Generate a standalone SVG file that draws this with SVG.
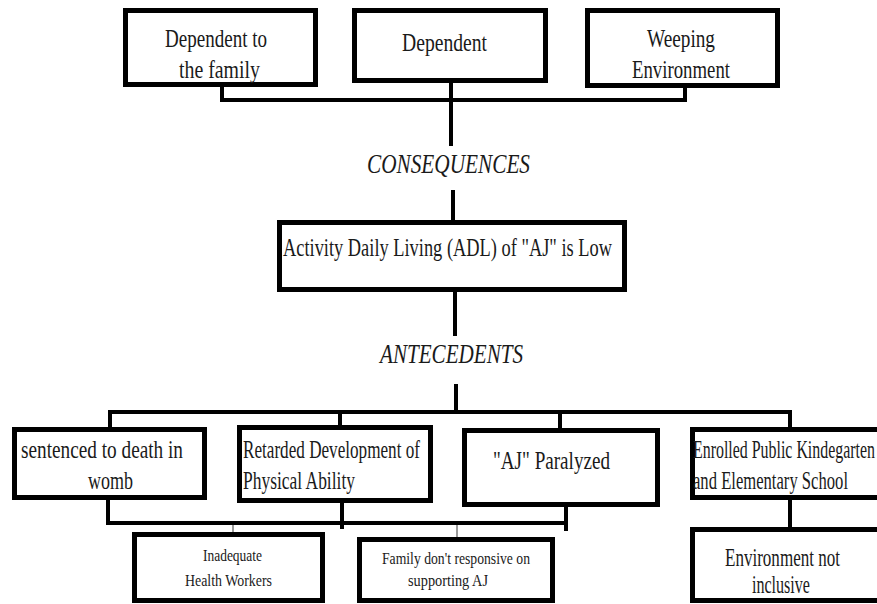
<svg xmlns="http://www.w3.org/2000/svg" width="877" height="604" viewBox="0 0 877 604">
  <style>
    .box { fill: #ffffff; stroke: #000000; stroke-width: 5; }
    .wire { stroke: #000000; stroke-width: 4; fill: none; stroke-linecap: square; }
    .faint { stroke: #9a9a9a; stroke-width: 2; fill: none; }
    text { font-family: "Liberation Serif", "Times New Roman", serif; fill: #1a1a1a; }
    .lbl { font-size: 25px; }
    .sm { font-size: 17px; }
    .head { font-size: 27px; font-style: italic; }
  </style>
  <rect width="877" height="604" fill="#ffffff"/>

  <!-- connectors -->
  <g id="connectors">
    <!-- consequences bracket -->
    <polyline class="wire" points="222,87 222,100 685,100 685,88"/>
    <line class="wire" x1="451" y1="83" x2="451" y2="144"/>
    <line class="wire" x1="453" y1="192" x2="453" y2="221"/>
    <!-- antecedents trunk -->
    <line class="wire" x1="455" y1="292" x2="455" y2="334"/>
    <line class="wire" x1="456" y1="386" x2="456" y2="412"/>
    <line class="wire" x1="110" y1="412" x2="790" y2="412"/>
    <line class="wire" x1="110" y1="412" x2="110" y2="427"/>
    <line class="wire" x1="340" y1="412" x2="340" y2="425"/>
    <line class="wire" x1="560" y1="412" x2="560" y2="428"/>
    <line class="wire" x1="790" y1="412" x2="790" y2="427"/>
    <!-- lower bracket -->
    <polyline class="wire" points="108,500 108,523 566,523"/>
    <line class="wire" x1="342" y1="503" x2="342" y2="527"/>
    <line class="wire" x1="566" y1="507" x2="566" y2="529"/>
    <line class="faint" x1="233" y1="525" x2="233" y2="532"/>
    <line class="faint" x1="457" y1="525" x2="457" y2="537"/>
    <line class="wire" x1="790" y1="500" x2="790" y2="527"/>
  </g>

  <!-- consequences -->
  <g id="dependent-family">
    <rect class="box" x="125.5" y="10.5" width="190" height="74"/>
    <text class="lbl" x="165" y="47" textLength="102" lengthAdjust="spacingAndGlyphs">Dependent to</text>
    <text class="lbl" x="179" y="78" textLength="81" lengthAdjust="spacingAndGlyphs">the family</text>
  </g>
  <g id="dependent">
    <rect class="box" x="354.5" y="10.5" width="191" height="70"/>
    <text class="lbl" x="402" y="51" textLength="85" lengthAdjust="spacingAndGlyphs">Dependent</text>
  </g>
  <g id="weeping-environment">
    <rect class="box" x="587.5" y="10.5" width="190" height="75"/>
    <text class="lbl" x="647" y="47" textLength="68" lengthAdjust="spacingAndGlyphs">Weeping</text>
    <text class="lbl" x="632" y="78" textLength="98" lengthAdjust="spacingAndGlyphs">Environment</text>
  </g>

  <g id="consequences-label">
    <text class="head" x="367" y="173" textLength="163" lengthAdjust="spacingAndGlyphs">CONSEQUENCES</text>
  </g>

  <g id="adl">
    <rect class="box" x="279.5" y="222.5" width="345" height="67"/>
    <text class="lbl" x="283" y="256" textLength="329" lengthAdjust="spacingAndGlyphs">Activity Daily Living (ADL) of "AJ" is Low</text>
  </g>

  <g id="antecedents-label">
    <text class="head" x="380" y="363" textLength="143" lengthAdjust="spacingAndGlyphs">ANTECEDENTS</text>
  </g>

  <!-- antecedents -->
  <g id="sentenced">
    <rect class="box" x="14.5" y="429.5" width="190" height="68"/>
    <text class="lbl" x="21" y="458" textLength="162" lengthAdjust="spacingAndGlyphs">sentenced to death in</text>
    <text class="lbl" x="88" y="489" textLength="45" lengthAdjust="spacingAndGlyphs">womb</text>
  </g>
  <g id="retarded">
    <rect class="box" x="239.5" y="427.5" width="191" height="73"/>
    <text class="lbl" x="243" y="458" textLength="177" lengthAdjust="spacingAndGlyphs">Retarded Development of</text>
    <text class="lbl" x="243" y="489" textLength="112" lengthAdjust="spacingAndGlyphs">Physical Ability</text>
  </g>
  <g id="paralyzed">
    <rect class="box" x="464.5" y="430.5" width="193" height="74"/>
    <text class="lbl" x="493" y="469" textLength="117" lengthAdjust="spacingAndGlyphs">"AJ" Paralyzed</text>
  </g>
  <g id="enrolled">
    <rect class="box" x="692.5" y="429.5" width="200" height="68"/>
    <text class="lbl" x="693" y="458" textLength="182" lengthAdjust="spacingAndGlyphs">Enrolled Public Kindegarten</text>
    <text class="lbl" x="693" y="489" textLength="155" lengthAdjust="spacingAndGlyphs">and Elementary School</text>
  </g>

  <g id="health-workers">
    <rect class="box" x="134.5" y="534.5" width="188" height="66"/>
    <text class="sm" x="203" y="561" textLength="59" lengthAdjust="spacingAndGlyphs">Inadequate</text>
    <text class="sm" x="185" y="586" textLength="87" lengthAdjust="spacingAndGlyphs">Health Workers</text>
  </g>
  <g id="family-support">
    <rect class="box" x="359.5" y="539.5" width="193" height="61"/>
    <text class="sm" x="382" y="564" textLength="148" lengthAdjust="spacingAndGlyphs">Family don't responsive on</text>
    <text class="sm" x="408" y="586" textLength="80" lengthAdjust="spacingAndGlyphs">supporting AJ</text>
  </g>
  <g id="environment">
    <rect class="box" x="692.5" y="529.5" width="200" height="71"/>
    <text class="lbl" x="725" y="566" textLength="115" lengthAdjust="spacingAndGlyphs">Environment not</text>
    <text class="lbl" x="752" y="593" textLength="58" lengthAdjust="spacingAndGlyphs">inclusive</text>
  </g>
</svg>
